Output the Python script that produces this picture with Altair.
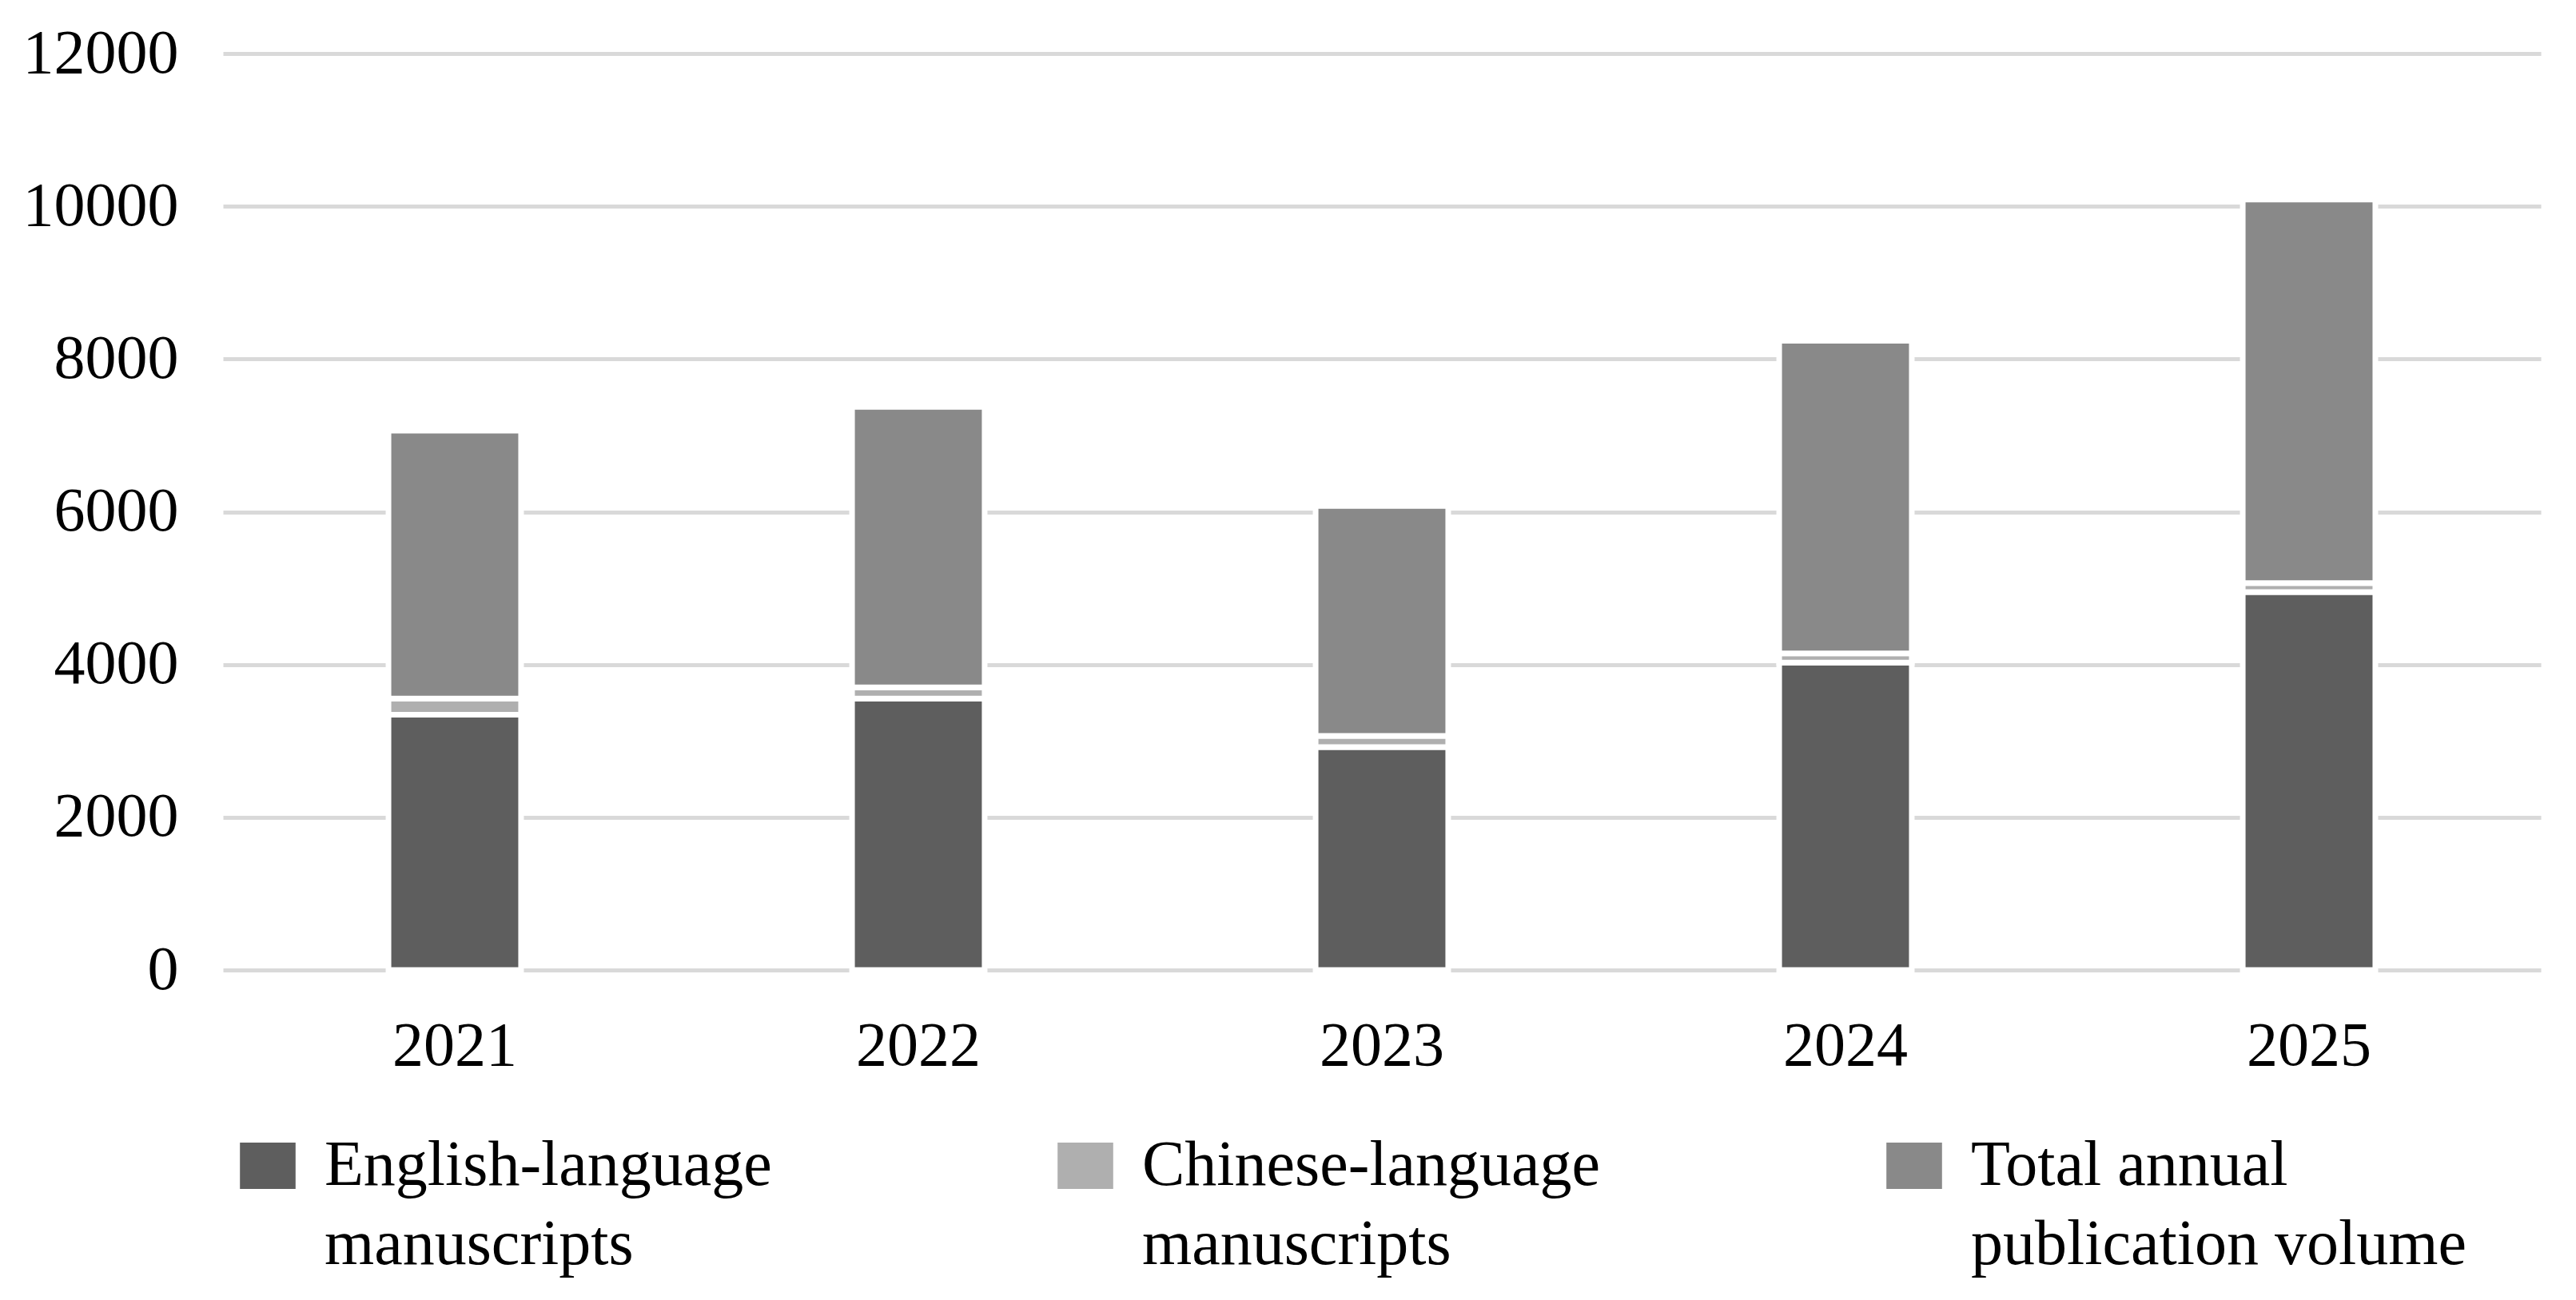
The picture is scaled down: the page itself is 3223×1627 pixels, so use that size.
import altair as alt
import pandas as pd

years = ["2021", "2022", "2023", "2024", "2025"]
english = [3342, 3554, 2919, 4025, 4949]
chinese = [212, 148, 147, 121, 118]
total = [3508, 3671, 3010, 4093, 5022]
series_names = ["English-language manuscripts", "Chinese-language manuscripts", "Total annual publication volume"]
legend_lines = [["English-language", "manuscripts"], ["Chinese-language", "manuscripts"], ["Total annual", "publication volume"]]
series_colors = ["#5e5e5e", "#afafaf", "#898989"]
y_ticks = [0, 2000, 4000, 6000, 8000, 10000, 12000]

rows = []
for i, yr in enumerate(years):
    for k, vals in enumerate([english, chinese, total]):
        rows.append({"year": yr, "series": series_names[k], "value": vals[i], "order": k})
df = pd.DataFrame(rows)

FONT = "Liberation Serif"

expr = ""
for name, lines in zip(series_names[:-1], legend_lines[:-1]):
    expr += "datum.label == '%s' ? ['%s', '%s'] : " % (name, lines[0], lines[1])
expr += "['%s', '%s']" % (legend_lines[-1][0], legend_lines[-1][1])

chart = alt.Chart(df).mark_bar(stroke="white", strokeWidth=7).encode(
    x=alt.X("year:N", sort=years, title=None,
            scale=alt.Scale(paddingInner=0.714, paddingOuter=0.357),
            axis=alt.Axis(labelAngle=0, labelFont=FONT, labelFontSize=78, labelColor="black",
                          labelPadding=56, ticks=False, domain=False, grid=False)),
    y=alt.Y("value:Q", stack="zero", title=None, scale=alt.Scale(domain=[0, 12000]),
            axis=alt.Axis(values=y_ticks, format="d", labelFont=FONT, labelFontSize=78,
                          labelColor="black", labelPadding=56, labelLimit=600, ticks=False,
                          domain=False, gridColor="#d9d9d9", gridWidth=5)),
    color=alt.Color("series:N", sort=series_names,
                    scale=alt.Scale(domain=series_names, range=series_colors),
                    legend=alt.Legend(title=None, orient="none", legendX=16, legendY=1352,
                                      direction="horizontal", columns=3, labelExpr=expr,
                                      symbolType="M-1.2,-1H1.2V1H-1.2Z", symbolSize=3364,
                                      symbolStrokeWidth=0, labelFont=FONT, labelFontSize=80,
                                      labelColor="black", labelOffset=31, columnPadding=352,
                                      labelLimit=1500)),
    order=alt.Order("order:Q"),
).properties(
    width=2900, height=1147,
    padding={"left": 20, "top": 20, "right": 10, "bottom": 10},
    background="white",
).configure(
    style={"guide-label": {"lineHeight": 99}},
    view=alt.ViewConfig(strokeWidth=0, stroke="transparent"),
)

chart.save("out.html", embed_options={"renderer": "svg", "actions": False})
